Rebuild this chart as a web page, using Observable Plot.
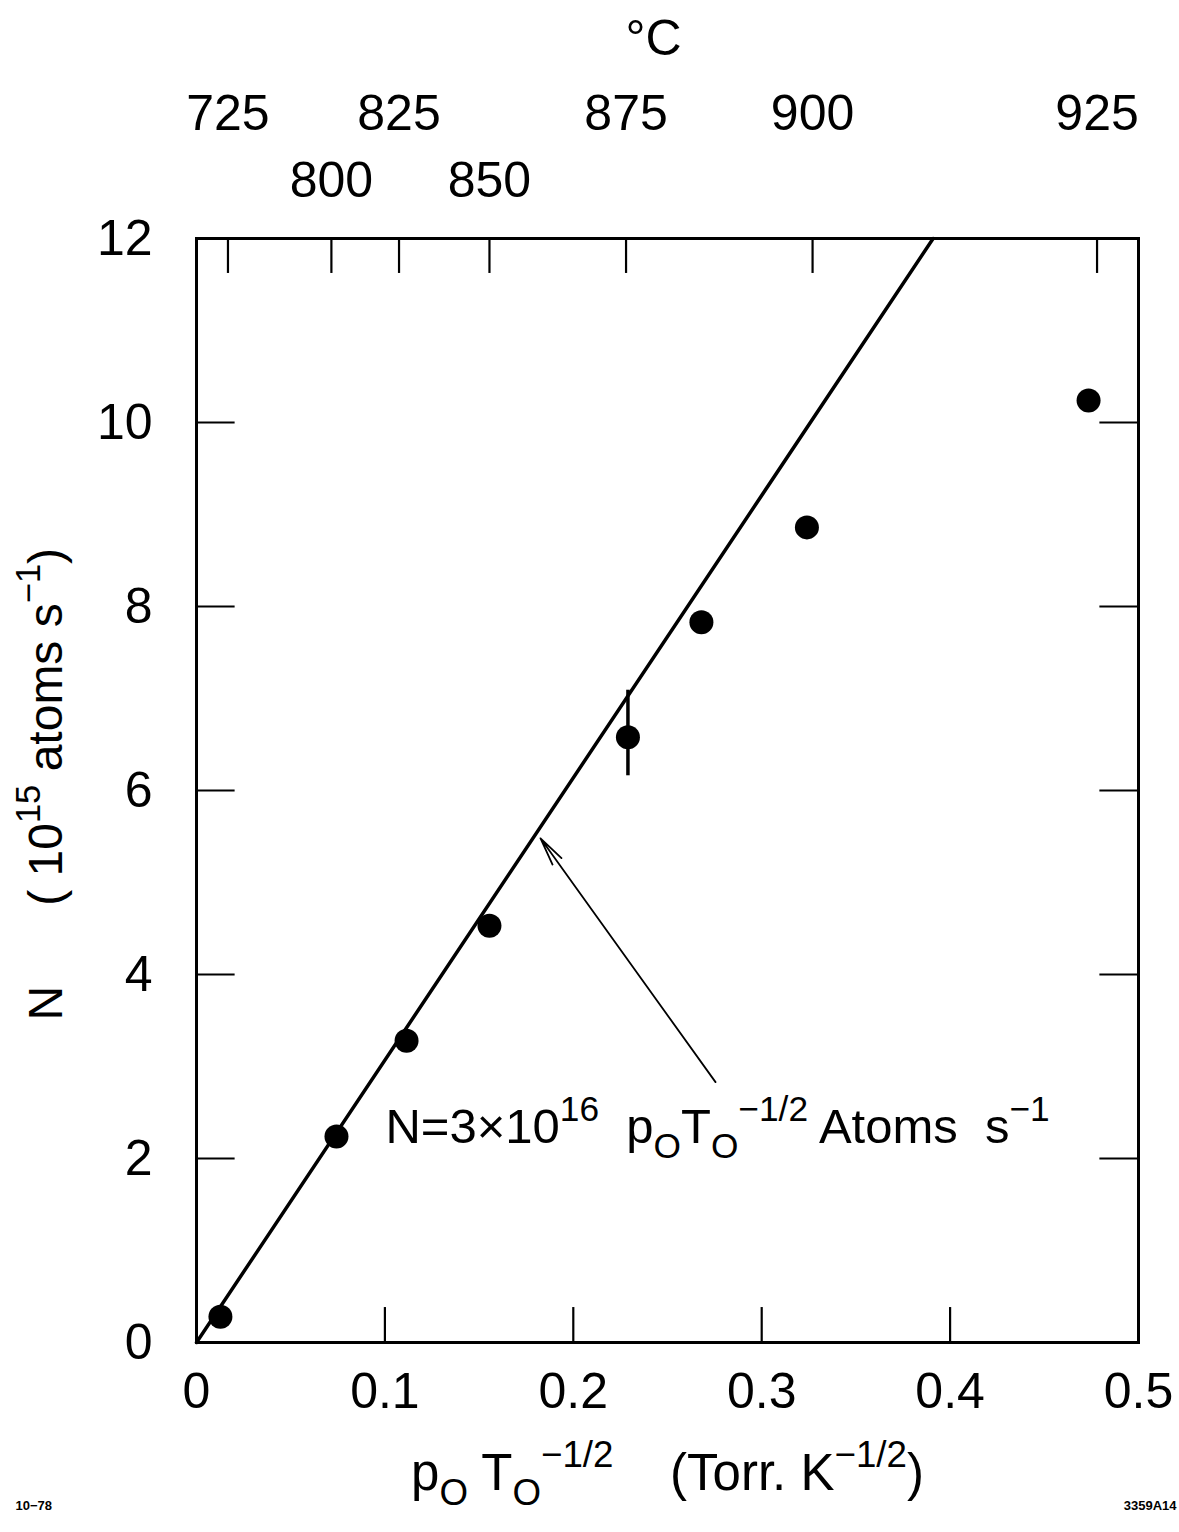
<!DOCTYPE html>
<html>
<head>
<meta charset="utf-8">
<script src="https://cdn.jsdelivr.net/npm/d3@7"></script>
<script src="https://cdn.jsdelivr.net/npm/@observablehq/plot@0.6"></script>
<style>
  body { margin: 0; background: white; }
  svg text { white-space: pre; }
</style>
</head>
<body>
<div id="chart"></div>
<script>
// ---- data ----
const xTicks = [0, 0.1, 0.2, 0.3, 0.4, 0.5];
const yTicks = [0, 2, 4, 6, 8, 10, 12];
const innerXTicks = [0.1, 0.2, 0.3, 0.4];
const innerYTicks = [2, 4, 6, 8, 10];

const tempLabels = [725, 800, 825, 850, 875, 900, 925];
const tempX = [0.0167, 0.0716, 0.1075, 0.1555, 0.228, 0.327, 0.478];
const tempRow = [0, 1, 0, 1, 0, 0, 0];

const pointX = [0.0127, 0.0743, 0.1115, 0.1555, 0.229, 0.268, 0.324, 0.4735];
const pointN = [0.28, 2.24, 3.28, 4.53, 6.58, 7.83, 8.86, 10.24];

const errX = [0.229];
const errLo = [6.16];
const errHi = [7.09];

const fitX = [0, 0.391];
const fitN = [0, 12];

const arrowFrom = [0.2755, 2.83];
const arrowTo = [0.1826, 5.48];
const eqAt = [0.1003, 2.34];
const eqText = "N=3×10^{16}  p_{O}T_{O}^{−1/2} Atoms  s^{−1}";

const xTitle = "p_{O} T_{O}^{−1/2}    (Torr. K^{−1/2})";
const yTitle = "N      ( 10^{15} atoms s^{−1})";
const topTitle = "°C";

// ---- tables ----
const points = pointX.map((x, i) => ({x, y: pointN[i]}));
const errs = errX.map((x, i) => ({x, lo: errLo[i], hi: errHi[i]}));
const fit = fitX.map((x, i) => ({x, y: fitN[i]}));
const temps = tempLabels.map((t, i) => ({t, x: tempX[i], row: tempRow[i]}));
const arrow = [{x1: arrowFrom[0], y1: arrowFrom[1], x2: arrowTo[0], y2: arrowTo[1]}];

const FONT = "Liberation Sans, Arial, sans-serif";
const tickLenY = 0.38;   // inward tick length in N units
const tickLenX = 0.0205; // inward tick length in x units

const chart = Plot.plot({
  width: 1179,
  height: 1532,
  marginLeft: 196,
  marginRight: 41,
  marginTop: 238,
  marginBottom: 190,
  style: {fontFamily: FONT, fontSize: "50px", background: "white", color: "black"},
  x: {domain: [0, 0.5], ticks: xTicks, tickSize: 0, tickPadding: 30, label: null,
      tickFormat: d => d === 0 ? "0" : d3.format(".1f")(d)},
  y: {domain: [0, 12], ticks: yTicks, tickSize: 0, tickPadding: 44, label: null},
  marks: [
    Plot.frame({stroke: "black", strokeWidth: 3}),
    // inward ticks
    Plot.ruleX(innerXTicks, {y1: 0, y2: tickLenY, strokeWidth: 2.2}),
    Plot.ruleY(innerYTicks, {x1: 0, x2: tickLenX, strokeWidth: 2.2}),
    Plot.ruleY(innerYTicks, {x1: 0.5, x2: 0.5 - tickLenX, strokeWidth: 2.2}),
    Plot.ruleX(temps, {x: "x", y1: 12, y2: 12 - tickLenY, strokeWidth: 2.2}),
    // temperature labels
    Plot.text(temps.filter(d => d.row === 0), {x: "x", text: d => String(d.t), frameAnchor: "top", dy: -125, lineAnchor: "middle", fontSize: 50}),
    Plot.text(temps.filter(d => d.row === 1), {x: "x", text: d => String(d.t), frameAnchor: "top", dy: -58, lineAnchor: "middle", fontSize: 50}),
    Plot.text([topTitle], {frameAnchor: "top", dx: -14, dy: -200, lineAnchor: "middle", fontSize: 50}),
    // fit line
    Plot.line(fit, {x: "x", y: "y", stroke: "black", strokeWidth: 3.5}),
    // error bar
    Plot.ruleX(errs, {x: "x", y1: "lo", y2: "hi", strokeWidth: 3.5}),
    // data points
    Plot.dot(points, {x: "x", y: "y", r: 12, fill: "black", stroke: null}),
    // annotation
    Plot.arrow(arrow, {x1: "x1", y1: "y1", x2: "x2", y2: "y2", stroke: "black", strokeWidth: 1.8, headLength: 24, headAngle: 22}),
    Plot.text([eqText], {x: eqAt[0], y: eqAt[1], textAnchor: "start", lineAnchor: "middle", fontSize: 49}),
    // axis titles
    Plot.text([xTitle], {frameAnchor: "bottom", dy: 131, textAnchor: "middle", lineAnchor: "middle", fontSize: 51}),
    Plot.text([yTitle], {frameAnchor: "left", dx: -150, dy: 230, rotate: -90, textAnchor: "start", lineAnchor: "middle", fontSize: 48}),
    // corner marks
    Plot.text(["10−78"], {frameAnchor: "bottom-left", dx: -181, dy: 163, textAnchor: "start", lineAnchor: "middle", fontSize: 13, fontWeight: "bold"}),
    Plot.text(["3359A14"], {frameAnchor: "bottom-right", dx: 38, dy: 163, textAnchor: "end", lineAnchor: "middle", fontSize: 13, fontWeight: "bold"})
  ]
});

document.getElementById("chart").appendChild(chart);

// rich text: ^{...} superscript, _{...} subscript
const NS = "http://www.w3.org/2000/svg";
chart.querySelectorAll("text").forEach(t => {
  const s = t.textContent;
  if (!/[\^_]\{/.test(s)) return;
  const fs = parseFloat(getComputedStyle(t).fontSize);
  while (t.firstChild) t.removeChild(t.firstChild);
  let shift = 0;
  s.split(/(\^\{[^}]*\}|_\{[^}]*\})/).filter(p => p !== "").forEach(p => {
    let target = 0, txt = p, small = false;
    if (p.startsWith("^{")) { target = -0.45 * fs; txt = p.slice(2, -1); small = true; }
    else if (p.startsWith("_{")) { target = 0.3 * fs; txt = p.slice(2, -1); small = true; }
    const ts = document.createElementNS(NS, "tspan");
    ts.setAttribute("dy", target - shift);
    shift = target;
    if (small) ts.setAttribute("font-size", 0.72 * fs);
    ts.textContent = txt;
    t.appendChild(ts);
  });
});
</script>
</body>
</html>
